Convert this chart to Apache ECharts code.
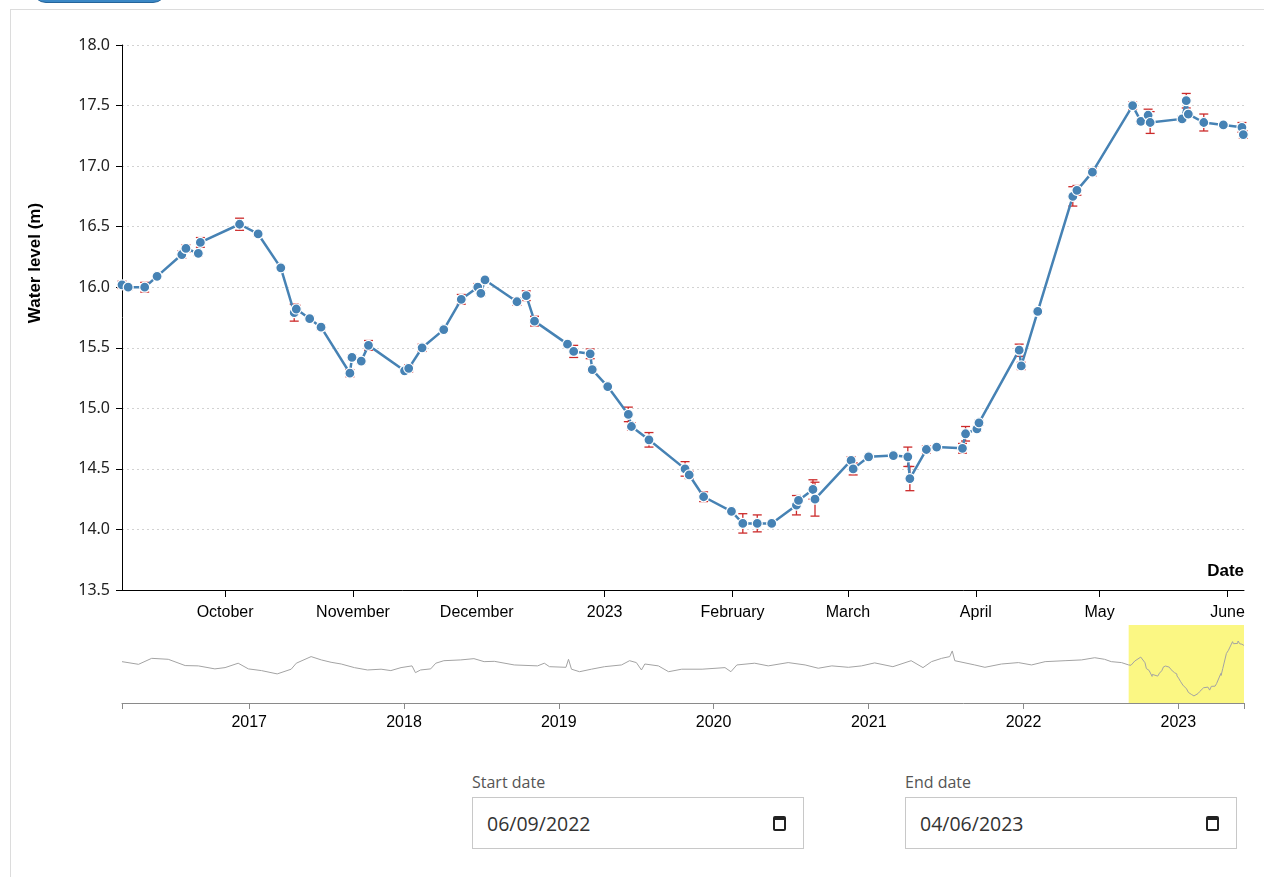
<!DOCTYPE html>
<html>
<head>
<meta charset="utf-8">
<script src="https://cdn.jsdelivr.net/npm/echarts@6/dist/echarts.min.js"></script>
<style>
  html, body { margin: 0; padding: 0; background: #fff; overflow: hidden; }
  body { width: 1264px; height: 877px; position: relative; font-family: 'Open Sans', sans-serif; }
  #tab { position: absolute; left: 32px; top: -30px; width: 133px; height: 31px; background: #3b88c6; border: 1px solid #23649b; border-radius: 14px; }
  #panel { position: absolute; left: 10px; top: 9px; width: 1300px; height: 1000px; border: 1px solid #dcdcdc; }
  #chart { position: absolute; left: 0; top: 0; width: 1264px; height: 760px; }
  .field { position: absolute; top: 772px; }
  .field label { display: block; font-size: 16px; line-height: 21px; color: #555; margin-bottom: 4px; }
  .box { width: 332px; height: 52px; border: 1px solid #c8c8c8; box-sizing: border-box; position: relative; background: #fff; }
  .box span { position: absolute; left: 14px; top: 13px; font-size: 19.5px; line-height: 25px; color: #333; }
  .cal { position: absolute; right: 17px; top: 18px; width: 9px; height: 9px; border: 2px solid #222; border-top-width: 4px; border-radius: 2px; }
</style>
</head>
<body>
<div id="tab"></div>
<div id="panel"></div>
<div id="chart"></div>
<div class="field" style="left:472px"><label>Start date</label><div class="box"><span id="startText"></span><div class="cal"></div></div></div>
<div class="field" style="left:905px"><label>End date</label><div class="box"><span id="endText"></span><div class="cal"></div></div></div>
<script>
// Selected window (inclusive end date)
const rangeStart = '2022-09-06';
const rangeEnd = '2023-06-04';
const rangeEndExclusive = '2023-06-05';
const historyStart = '2016-03-07';

// Measurements inside the selected window
const mainDates = [
  '2022-09-06 00:00','2022-09-07 12:00','2022-09-11 12:00','2022-09-14 12:00','2022-09-20 12:00','2022-09-21 12:00','2022-09-24 12:00','2022-09-25 00:00',
  '2022-10-04 12:00','2022-10-09 00:00','2022-10-14 12:00','2022-10-17 18:00','2022-10-18 06:00','2022-10-21 12:00','2022-10-24 06:00','2022-10-31 06:00','2022-10-31 18:00',
  '2022-11-03 00:00','2022-11-04 18:00','2022-11-13 12:00','2022-11-14 12:00','2022-11-17 18:00','2022-11-23 00:00','2022-11-27 06:00',
  '2022-12-01 06:00','2022-12-02 00:00','2022-12-03 00:00','2022-12-10 18:00','2022-12-13 00:00','2022-12-15 00:00','2022-12-23 00:00','2022-12-24 12:00','2022-12-28 12:00','2022-12-29 00:00',
  '2023-01-01 18:00','2023-01-06 18:00','2023-01-07 12:00','2023-01-11 18:00','2023-01-20 12:00','2023-01-21 12:00','2023-01-25 00:00','2023-01-31 18:00',
  '2023-02-03 12:00','2023-02-07 00:00','2023-02-10 12:00','2023-02-16 12:00','2023-02-17 00:00','2023-02-20 12:00','2023-02-21 00:00',
  '2023-03-01 18:00','2023-03-02 06:00','2023-03-06 00:00','2023-03-12 00:00','2023-03-15 12:00','2023-03-16 00:00','2023-03-20 00:00','2023-03-22 12:00','2023-03-28 18:00','2023-03-29 12:00',
  '2023-04-01 06:00','2023-04-01 18:00','2023-04-11 12:00','2023-04-12 00:00','2023-04-16 00:00','2023-04-24 12:00','2023-04-25 12:00','2023-04-29 06:00',
  '2023-05-09 00:00','2023-05-11 00:00','2023-05-12 18:00','2023-05-13 06:00','2023-05-21 00:00','2023-05-22 00:00','2023-05-22 12:00','2023-05-26 06:00','2023-05-31 00:00','2023-06-04 12:00','2023-06-04 20:00'
];
const mainLevels = [
  16.02,16.00,16.00,16.09,16.27,16.32,16.28,16.37,
  16.52,16.44,16.16,15.79,15.82,15.74,15.67,15.29,15.42,
  15.39,15.52,15.31,15.33,15.50,15.65,15.90,
  16.00,15.95,16.06,15.88,15.93,15.72,15.53,15.47,15.45,15.32,
  15.18,14.95,14.85,14.74,14.50,14.45,14.27,14.15,
  14.05,14.05,14.05,14.20,14.24,14.33,14.25,
  14.57,14.50,14.60,14.61,14.60,14.42,14.66,14.68,14.67,14.79,
  14.83,14.88,15.48,15.35,15.80,16.75,16.80,16.95,
  17.50,17.37,17.42,17.36,17.39,17.54,17.43,17.36,17.34,17.32,17.26
];
// Measurement uncertainty (± metres)
const mainErrors = [
  0.03,0.02,0.04,0.01,0.03,0.03,0.02,0.04,
  0.05,0.02,0.01,0.07,0.03,0.02,0.02,0.03,0.02,
  0.02,0.04,0.02,0.03,0.03,0.01,0.04,
  0.03,0.02,0.02,0.03,0.04,0.04,0.02,0.05,0.04,0.02,
  0.01,0.06,0.03,0.06,0.06,0.03,0.04,0.01,
  0.08,0.07,0.01,0.08,0.02,0.08,0.14,
  0.03,0.05,0.02,0.02,0.08,0.10,0.03,0.02,0.04,0.06,
  0.02,0.02,0.05,0.03,0.02,0.08,0.04,0.03,
  0.03,0.02,0.05,0.09,0.02,0.06,0.02,0.07,0.01,0.04,0.03
];

// Earlier record shown in the overview strip
const histDates = [
  '2016-03-07','2016-04-15','2016-05-16','2016-06-24','2016-08-03','2016-09-03','2016-10-12','2016-11-05','2016-12-06','2016-12-30',
  '2017-01-30','2017-03-08','2017-04-10','2017-04-22','2017-05-27','2017-06-20','2017-07-13','2017-08-06','2017-09-06','2017-10-07','2017-11-08','2017-12-01','2017-12-25',
  '2018-01-20','2018-01-28','2018-02-09','2018-03-05','2018-03-17','2018-04-05','2018-05-15','2018-06-15','2018-07-09','2018-08-02','2018-09-18','2018-11-12','2018-11-28','2018-12-10',
  '2019-01-18','2019-01-24','2019-01-31','2019-02-19','2019-03-19','2019-04-19','2019-05-29','2019-06-17','2019-07-03','2019-07-15','2019-07-23','2019-08-24','2019-09-17','2019-10-18','2019-12-05',
  '2020-01-28','2020-02-11','2020-02-25','2020-04-07','2020-05-09','2020-06-25','2020-08-04','2020-09-04','2020-10-06','2020-11-14','2020-12-15',
  '2021-01-15','2021-02-27','2021-04-11','2021-05-09','2021-05-29','2021-06-22','2021-07-11','2021-07-17','2021-07-23','2021-09-08','2021-10-02','2021-11-10','2021-12-20',
  '2022-01-20','2022-02-21','2022-04-09','2022-05-18','2022-06-18','2022-07-11','2022-07-27','2022-08-20'
];
const histLevels = [
  16.23,16.06,16.44,16.38,15.98,15.96,15.77,15.85,16.13,15.77,
  15.66,15.45,15.75,16.13,16.55,16.34,16.19,16.08,15.85,15.70,15.75,15.66,15.85,
  15.96,15.53,15.70,15.77,16.13,16.29,16.34,16.42,16.23,16.25,16.02,15.96,16.13,15.91,
  15.87,16.38,15.75,15.59,15.75,15.91,16.02,16.29,16.17,15.70,16.08,15.96,15.59,15.75,15.75,
  15.85,15.59,16.02,16.13,15.96,16.17,16.02,15.81,15.96,15.87,15.96,
  16.15,15.91,16.29,15.85,16.23,16.44,16.55,16.91,16.29,16.02,15.87,16.08,16.17,
  16.02,16.23,16.29,16.34,16.48,16.38,16.23,16.17
];

// Tick labels
const monthTicks = ['2022-10-01','2022-11-01','2022-12-01','2023-01-01','2023-02-01','2023-03-01','2023-04-01','2023-05-01','2023-06-01'];
const monthNames = ['January','February','March','April','May','June','July','August','September','October','November','December'];
const yearTicks = ['2017-01-01','2018-01-01','2019-01-01','2020-01-01','2021-01-01','2022-01-01','2023-01-01'];
const levelMin = 13.5, levelMax = 18.0, levelStep = 0.5;
const yAxisTitle = 'Water level (m)';
const xAxisTitle = 'Date';

function toTime(s) {
  const m = s.match(/^(\d{4})-(\d{2})-(\d{2})(?:[ T](\d{2}):(\d{2}))?/);
  return new Date(+m[1], +m[2] - 1, +m[3], m[4] ? +m[4] : 0, m[5] ? +m[5] : 0).getTime();
}
function ddmmyyyy(s) {
  const p = s.split('-');
  return p[2] + '/' + p[1] + '/' + p[0];
}
document.getElementById('startText').textContent = ddmmyyyy(rangeStart);
document.getElementById('endText').textContent = ddmmyyyy(rangeEnd);

const mainSeries = mainDates.map((d, i) => [toTime(d), mainLevels[i]]);
const errorSeries = mainDates.map((d, i) => [toTime(d), mainLevels[i] - mainErrors[i], mainLevels[i] + mainErrors[i]]);
const overviewSeries = histDates.map((d, i) => [toTime(d), histLevels[i]]).concat(mainSeries);

const labelFont = 'Liberation Sans';

function renderErrorBar(params, api) {
  const x = api.value(0);
  const lo = api.coord([x, api.value(1)]);
  const hi = api.coord([x, api.value(2)]);
  const w = 4.5;
  const style = { stroke: '#cc2a2a', lineWidth: 1.3, fill: null };
  return {
    type: 'group',
    children: [
      { type: 'line', shape: { x1: lo[0], y1: lo[1], x2: hi[0], y2: hi[1] }, style: style },
      { type: 'line', shape: { x1: lo[0] - w, y1: lo[1], x2: lo[0] + w, y2: lo[1] }, style: style },
      { type: 'line', shape: { x1: hi[0] - w, y1: hi[1], x2: hi[0] + w, y2: hi[1] }, style: style }
    ]
  };
}

const chart = echarts.init(document.getElementById('chart'), null, { renderer: 'canvas' });
chart.setOption({
  animation: false,
  backgroundColor: 'transparent',
  textStyle: { fontFamily: labelFont },
  grid: [
    { left: 122, right: 20, top: 45, height: 545, containLabel: false, outerBoundsMode: 'none' },
    { left: 122, right: 20, top: 625, height: 78, containLabel: false, outerBoundsMode: 'none' }
  ],
  xAxis: [
    {
      type: 'value', gridIndex: 0, scale: true,
      min: toTime(rangeStart), max: toTime(rangeEndExclusive),
      axisLine: { show: true, onZero: false, lineStyle: { color: '#000', width: 1 } },
      axisTick: { show: true, length: 7, customValues: monthTicks.map(toTime), lineStyle: { color: '#000' } },
      axisLabel: {
        customValues: monthTicks.map(toTime),
        formatter: function (v) {
          const d = new Date(v);
          return d.getMonth() === 0 ? String(d.getFullYear()) : monthNames[d.getMonth()];
        },
        fontSize: 16, color: '#000', margin: 15, fontFamily: labelFont, hideOverlap: false
      },
      splitLine: { show: false }
    },
    {
      type: 'value', gridIndex: 1, scale: true,
      min: toTime(historyStart), max: toTime(rangeEndExclusive),
      axisLine: { show: true, onZero: false, lineStyle: { color: '#8a8a8a', width: 1 } },
      axisTick: { show: true, length: 6, customValues: [toTime(historyStart)].concat(yearTicks.map(toTime), [toTime(rangeEndExclusive)]), lineStyle: { color: '#8a8a8a' } },
      axisLabel: {
        customValues: yearTicks.map(toTime),
        formatter: function (v) { return String(new Date(v).getFullYear()); },
        fontSize: 16, color: '#000', margin: 12, fontFamily: labelFont, hideOverlap: false
      },
      splitLine: { show: false }
    }
  ],
  yAxis: [
    {
      type: 'value', gridIndex: 0,
      min: levelMin, max: levelMax, interval: levelStep,
      axisLine: { show: true, lineStyle: { color: '#000', width: 1 } },
      axisTick: { show: true, length: 6, lineStyle: { color: '#000' } },
      axisLabel: { formatter: function (v) { return v.toFixed(1); }, fontSize: 16, color: '#222', margin: 12, fontFamily: 'Noto Sans' },
      splitLine: { show: true, lineStyle: { color: '#d2d2d2', width: 1, type: [2, 3] } }
    },
    { type: 'value', gridIndex: 1, min: 13.6, max: 18.56, show: false }
  ],
  series: [
    {
      name: 'uncertainty', type: 'custom', xAxisIndex: 0, yAxisIndex: 0,
      renderItem: renderErrorBar, data: errorSeries, encode: { x: 0, y: [1, 2] }, z: 2, silent: true
    },
    {
      name: 'level', type: 'line', xAxisIndex: 0, yAxisIndex: 0, data: mainSeries,
      symbol: 'circle', symbolSize: 10, showSymbol: true,
      lineStyle: { color: '#4682b4', width: 2.5 },
      itemStyle: { color: '#4682b4', borderColor: '#ffffff', borderWidth: 1.2 },
      z: 3, silent: true
    },
    {
      name: 'overview', type: 'line', xAxisIndex: 1, yAxisIndex: 1, data: overviewSeries,
      showSymbol: false, symbol: 'none',
      lineStyle: { color: '#a3a3a3', width: 1 },
      silent: true,
      markArea: {
        silent: true,
        itemStyle: { color: '#fbf783', opacity: 1 },
        data: [[{ xAxis: toTime(rangeStart) }, { xAxis: toTime(rangeEndExclusive) }]]
      }
    }
  ],
  graphic: [
    {
      type: 'text', x: 35, y: 263, rotation: Math.PI / 2,
      style: { text: yAxisTitle, font: 'bold 17px "Liberation Sans"', fill: '#000', align: 'center', verticalAlign: 'middle' }
    },
    {
      type: 'text', x: 1244, y: 571,
      style: { text: xAxisTitle, font: 'bold 17px "Liberation Sans"', fill: '#000', align: 'right', verticalAlign: 'middle' }
    }
  ]
});
</script>
</body>
</html>
